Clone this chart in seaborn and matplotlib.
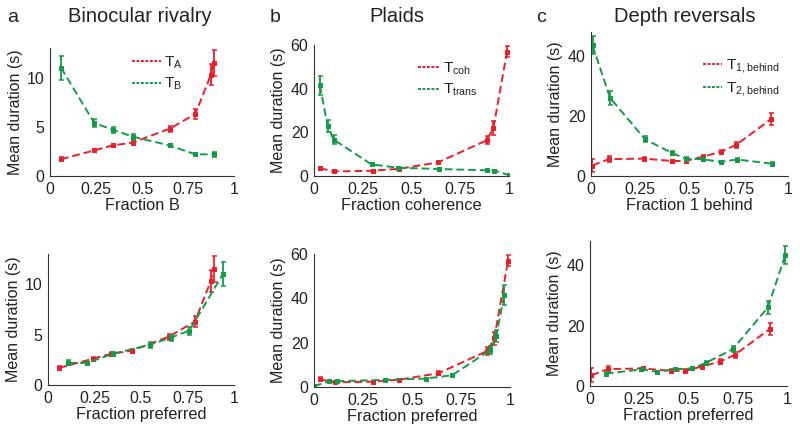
import seaborn as sns
import matplotlib.pyplot as plt
import pandas as pd
from matplotlib.lines import Line2D

# colours
RED = "#ea1f2c"
GREEN = "#159a48"

# Binocular rivalry
a_x = [0.06, 0.24, 0.34, 0.45, 0.65, 0.79, 0.875, 0.89]
a_TA = [1.7, 2.6, 3.1, 3.4, 4.8, 6.3, 10.3, 11.5]
a_TA_err = [0.2, 0.15, 0.2, 0.2, 0.3, 0.5, 1.1, 1.3]
a_TB_x = [0.06, 0.24, 0.34, 0.45, 0.65, 0.79, 0.89]
a_TB = [11.0, 5.4, 4.7, 4.0, 3.1, 2.2, 2.2]
a_TB_err = [1.2, 0.4, 0.3, 0.3, 0.15, 0.1, 0.25]
a_TB_pref_x = [0.11, 0.21, 0.35, 0.55, 0.66, 0.76, 0.94]
a_TB_pref = [2.2, 2.2, 3.1, 4.0, 4.7, 5.4, 11.0]
a_TB_pref_err = [0.25, 0.1, 0.15, 0.3, 0.3, 0.4, 1.2]

# Plaids
b_x = [0.03, 0.105, 0.30, 0.435, 0.635, 0.885, 0.92, 0.99]
b_coh = [3.5, 2.1, 2.4, 3.3, 6.2, 16.3, 22.0, 57.0]
b_coh_err = [0.8, 0.5, 0.3, 0.5, 0.8, 1.8, 3.0, 2.5]
b_trans_x = [0.03, 0.07, 0.10, 0.295, 0.43, 0.64, 0.885, 0.925, 1.0]
b_trans = [41.5, 23.0, 16.7, 5.3, 3.8, 3.2, 2.6, 2.5, 0.4]
b_trans_err = [4.5, 2.7, 2.0, 0.4, 0.3, 0.3, 0.3, 0.3, 0.2]
b_trans_pref_x = [0.0, 0.075, 0.115, 0.36, 0.57, 0.705, 0.90, 0.93, 0.97]
b_trans_pref = [0.4, 2.5, 2.6, 3.2, 3.8, 5.3, 16.7, 23.0, 41.5]
b_trans_pref_err = [0.2, 0.3, 0.3, 0.3, 0.3, 0.4, 2.0, 2.7, 4.5]

# Depth reversals
c_x = [0.007, 0.09, 0.27, 0.41, 0.48, 0.566, 0.66, 0.735, 0.915]
c_T1 = [3.5, 5.6, 5.8, 5.0, 5.0, 6.4, 8.1, 10.3, 19.0]
c_T1_err = [2.3, 1.0, 0.5, 0.5, 0.5, 0.5, 0.7, 1.0, 2.0]
c_T2_x = [0.008, 0.097, 0.275, 0.41, 0.48, 0.566, 0.66, 0.74, 0.92]
c_T2 = [43.5, 26.0, 12.2, 7.7, 5.8, 5.6, 4.7, 5.5, 4.1]
c_T2_err = [3.0, 2.3, 1.0, 0.6, 0.5, 0.5, 0.4, 0.6, 0.5]
c_T2_pref_x = [0.08, 0.26, 0.34, 0.434, 0.52, 0.59, 0.725, 0.903, 0.992]
c_T2_pref = [4.1, 5.5, 4.7, 5.6, 5.8, 7.7, 12.2, 26.0, 43.5]
c_T2_pref_err = [0.5, 0.6, 0.4, 0.5, 0.5, 0.6, 1.0, 2.3, 3.0]

sns.set_style("white")
plt.rcParams["font.family"] = ["Liberation Sans", "DejaVu Sans"]
plt.rcParams["mathtext.fontset"] = "custom"
plt.rcParams["mathtext.rm"] = "Liberation Sans"
plt.rcParams["mathtext.it"] = "Liberation Sans"
plt.rcParams["text.color"] = "#222222"

fig = plt.figure(figsize=(8, 4.36), dpi=100)


def px_axes(l, r, t, b):
    W, H = 800, 436
    return fig.add_axes([l / W, 1 - b / H, (r - l) / W, (b - t) / H])


def panel(ax, s1, s2, ylim, yticks, xlabel, legend=None):
    for (x, y, e), col in ((s1, RED), (s2, GREEN)):
        df = pd.DataFrame({"x": x, "y": y})
        sns.lineplot(data=df, x="x", y="y", ax=ax, color=col, lw=1.4,
                     linestyle=(0, (4, 2)), marker="s", markersize=2.2,
                     markeredgecolor=col, estimator=None)
        ax.errorbar(x, y, yerr=e, fmt="none", ecolor=col, elinewidth=1.3,
                    capsize=1.8, capthick=1.1)
    ax.set_xlim(0, 1)
    ax.set_ylim(*ylim)
    ax.set_xticks([0, 0.25, 0.5, 0.75, 1])
    ax.set_xticklabels(["0", "0.25", "0.5", "0.75", "1"])
    ax.set_yticks(yticks)
    ax.set_xlabel(xlabel, fontsize=11.8, labelpad=1, color="#222222")
    ax.set_ylabel("Mean duration (s)", fontsize=11.5, labelpad=3, color="#222222")
    ax.tick_params(labelsize=11.5, direction="in", length=2, pad=4,
                   labelcolor="#222222")
    sns.despine(ax=ax)
    for sp in ("left", "bottom"):
        ax.spines[sp].set_color("#333333")
        ax.spines[sp].set_linewidth(0.8)
    if legend:
        labels, anchor, hl = legend
        handles = [Line2D([], [], color=RED, lw=1.4, linestyle=(0, (1.5, 0.8))),
                   Line2D([], [], color=GREEN, lw=1.4, linestyle=(0, (1.5, 0.8)))]
        ax.legend(handles, labels, loc="upper left", bbox_to_anchor=anchor,
                  frameon=False, fontsize=11, handlelength=hl, handletextpad=0.25,
                  labelspacing=0.35, borderaxespad=0)


axA = px_axes(50, 234, 48, 176)
panel(axA, (a_x, a_TA, a_TA_err), (a_TB_x, a_TB, a_TB_err), (0, 13), [0, 5, 10],
      "Fraction B", ([r"T$_\mathrm{A}$", r"T$_\mathrm{B}$"], (0.41, 1.0), 1.9))
axB = px_axes(314, 509, 45, 176)
panel(axB, (b_x, b_coh, b_coh_err), (b_trans_x, b_trans, b_trans_err), (0, 60),
      [0, 20, 40, 60], "Fraction coherence",
      ([r"T$_\mathrm{coh}$", r"T$_\mathrm{trans}$"], (0.5, 0.93), 1.4))
axC = px_axes(591, 788, 32, 176)
panel(axC, (c_x, c_T1, c_T1_err), (c_T2_x, c_T2, c_T2_err), (0, 48), [0, 20, 40],
      "Fraction 1 behind",
      ([r"T$_\mathrm{1,behind}$", r"T$_\mathrm{2,behind}$"], (0.54, 0.87), 1.2))

axD = px_axes(48, 234, 254, 385)
panel(axD, (a_x, a_TA, a_TA_err), (a_TB_pref_x, a_TB_pref, a_TB_pref_err), (0, 13),
      [0, 5, 10], "Fraction preferred")
axE = px_axes(314, 510, 254, 387)
panel(axE, (b_x, b_coh, b_coh_err), (b_trans_pref_x, b_trans_pref, b_trans_pref_err),
      (0, 60), [0, 20, 40, 60], "Fraction preferred")
axF = px_axes(590, 787, 241, 386)
panel(axF, (c_x, c_T1, c_T1_err), (c_T2_pref_x, c_T2_pref, c_T2_pref_err), (0, 48),
      [0, 20, 40], "Fraction preferred")

# titles and panel letters
fig.text(140 / 800, 1 - 17 / 436, "Binocular rivalry", fontsize=14.5, ha="center", va="center")
fig.text(397 / 800, 1 - 17 / 436, "Plaids", fontsize=14.5, ha="center", va="center")
fig.text(685 / 800, 1 - 17 / 436, "Depth reversals", fontsize=14.5, ha="center", va="center")
for lx, letter in ((7, "a"), (270, "b"), (536, "c")):
    fig.text(lx / 800, 1 - 17 / 436, letter, fontsize=14, ha="left", va="center")

fig.savefig("out.png", dpi=100)
